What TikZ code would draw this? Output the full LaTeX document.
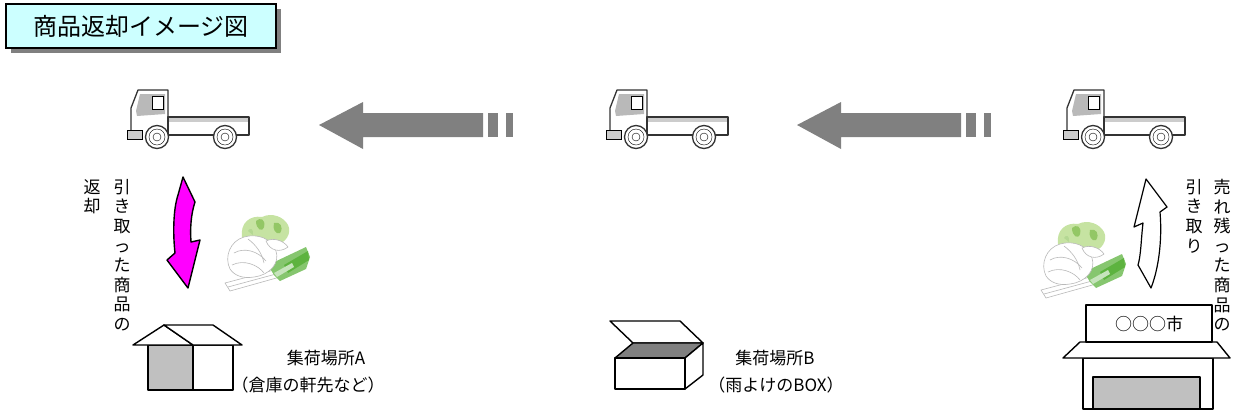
\documentclass[tikz,border=0pt]{standalone}
\usepackage{fontspec}
\usepackage{tikz}
\usetikzlibrary{shadows}
\newfontfamily\jp{Noto Sans CJK JP}
\definecolor{arrowgray}{HTML}{808080}
\definecolor{wallgray}{HTML}{C0C0C0}
\definecolor{titlecyan}{HTML}{CCFFFF}
\definecolor{returnpink}{HTML}{FF00FF}
\definecolor{leekgreen}{HTML}{5DB33F}
\definecolor{leafgreen}{HTML}{C6E3A2}
\definecolor{leafdark}{HTML}{93C765}

\begin{document}
\begin{tikzpicture}[x=1pt, y=-1pt,
        line/.style={line width=1.4pt, line join=round},
        truckline/.style={line width=1.3pt, draw=black!80, line join=round},
        sketch/.style={draw=gray!55, line width=0.6pt},
        label/.style={font=\jp\fontsize{17}{26}\selectfont, inner sep=0pt},
        vtext/.style={font=\jp\fontsize{17}{19.6}\selectfont, align=center, inner sep=0pt, anchor=north}]
    \useasboundingbox (0,0) rectangle (1239,416);

    % title
    \node[draw, line width=1.5pt, fill=titlecyan, minimum width=270pt, minimum height=44pt,
          drop shadow={shadow xshift=5pt, shadow yshift=-5pt, fill=arrowgray, opacity=1},
          font=\jp\fontsize{24}{24}\selectfont] (title) at (141,26) {商品返却イメージ図};

    % trucks
    \foreach \tx in {0, 479, 936} {
        \begin{scope}[xshift=\tx pt]
            \fill[gray!55] (136,111) -- (140,94) -- (165,94) -- (165,114) -- (137,116) -- cycle;
            \draw[thin, fill=white] (152,96) rectangle (163,109);
            \draw[truckline] (131,131) -- (131,108) -- (138,90) -- (168,90) -- (168,136);
            \fill[gray!40] (168,117) rectangle (249,122);
            \draw[truckline] (168,117) rectangle (249,135);
            \draw[thin, fill=gray!40] (127,130) rectangle (142,139);
            \foreach \wx in {157, 225} {
                \draw[truckline, fill=white] (\wx,137) circle (11.5pt);
                \draw[thin] (\wx,137) circle (8pt);
                \draw[thin] (\wx,137) circle (4pt);
            }
        \end{scope}
    }

    % grey arrows between the trucks
    \foreach \ax in {0, 478} {
        \begin{scope}[xshift=\ax pt]
            \fill[arrowgray] (319,125) -- (363,102) -- (363,113) -- (483,113)
                -- (483,137) -- (363,137) -- (363,149) -- cycle;
            \fill[arrowgray] (488,113) rectangle (498,137);
            \fill[arrowgray] (506,113) rectangle (513,137);
        \end{scope}
    }

    % return arrow (pink) and pick-up arrow (white)
    \draw[line, fill=returnpink] (183,177) -- (195,202) .. controls (191,214) and (190,228) .. (191,242)
        -- (200,240) -- (188,288) -- (167,260) -- (175,253)
        .. controls (173,235) and (173,210) .. (178,195) -- cycle;
    \draw[line, line width=1.2pt, fill=white] (1146,179) -- (1167,207) -- (1160,212)
        .. controls (1162,235) and (1160,265) .. (1151,288) -- (1138,265)
        .. controls (1141,255) and (1141,240) .. (1143,223) -- (1134,227) -- cycle;

    % vertical captions
    \node[vtext] (picked) at (122,179) {引\\き\\取\\っ\\た\\商\\品\\の};
    \node[vtext] (returned) at (92,179) {返\\却};
    \node[vtext] (unsold) at (1222,179) {売\\れ\\残\\っ\\た\\商\\品\\の};
    \node[vtext] (pickup) at (1194,179) {引\\き\\取\\り};

    % vegetables: chinese cabbage and leek
    \foreach \vx/\vy in {222/213, 1038/220} {
        \begin{scope}[shift={(\vx,\vy)}]
            % leek, white part
            \draw[sketch, fill=white] (3,70) -- (52,57) -- (58,64) -- (8,78) -- cycle;
            \draw[sketch] (6,74) -- (54,61);
            % leek, green part
            \fill[leekgreen!75] (46,52) -- (84,34) -- (88,44) -- (84,56) -- (58,68) -- (52,62) -- cycle;
            \fill[leekgreen] (62,52) -- (86,38) -- (87,47) -- (66,60) -- cycle;
            \fill[leekgreen!35] (52,60) -- (70,50) -- (72,54) -- (55,64) -- cycle;
            % cabbage leaves
            \fill[leafgreen] (20,24) .. controls (18,10) and (28,2) .. (40,4)
                .. controls (50,-1) and (62,4) .. (66,12)
                .. controls (70,20) and (64,30) .. (54,32)
                .. controls (42,34) and (26,34) .. (20,24) -- cycle;
            \fill[leafdark] (34,8) .. controls (38,4) and (44,6) .. (42,14) .. controls (40,20) and (34,16) .. (34,8) -- cycle;
            \fill[leafdark] (52,10) .. controls (58,8) and (62,14) .. (58,20) .. controls (54,22) and (50,16) .. (52,10) -- cycle;
            \fill[leafdark!70] (26,18) .. controls (28,14) and (32,16) .. (31,22) -- cycle;
            % cabbage body
            \draw[sketch, fill=white] (8,56) .. controls (2,44) and (8,28) .. (22,24)
                .. controls (36,20) and (50,26) .. (54,38)
                .. controls (58,50) and (48,62) .. (32,64)
                .. controls (20,66) and (12,62) .. (8,56) -- cycle;
            \draw[sketch] (12,40) .. controls (22,34) and (36,38) .. (44,48);
            \draw[sketch] (10,52) .. controls (22,46) and (36,52) .. (42,60);
            \draw[sketch] (26,26) .. controls (34,32) and (40,40) .. (42,50);
            \draw[sketch, fill=white] (44,28) .. controls (52,24) and (62,28) .. (66,34)
                .. controls (58,40) and (48,38) .. (44,28) -- cycle;
        \end{scope}
    }

    % collection point A : house
    \draw[line, fill=wallgray] (148,345) rectangle (193,390);
    \draw[line, fill=white] (193,345) rectangle (233,390);
    \draw[line, fill=white] (133,345) -- (164,325) -- (193,345) -- cycle;
    \draw[line, fill=white] (164,325) -- (213,325) -- (242,345) -- (193,345) -- cycle;
    \node[label] (siteA) at (326,358) {集荷場所A};
    \node[label] (siteAnote) at (308,385) {（倉庫の軒先など）};

    % collection point B : box with open lid
    \draw[line, fill=white] (633,343) -- (610,321) -- (680,321) -- (703,343) -- cycle;
    \draw[line, fill=arrowgray] (615,358) -- (633,343) -- (703,343) -- (685,358) -- cycle;
    \draw[line, fill=white] (685,358) -- (703,343) -- (703,375) -- (685,389) -- cycle;
    \draw[line, fill=white] (615,358) rectangle (685,389);
    \node[label] (siteB) at (775,358) {集荷場所B};
    \node[label] (siteBnote) at (776,385) {（雨よけのBOX）};

    % market
    \draw[line, fill=white] (1083,358) rectangle (1213,409);
    \draw[line, fill=wallgray] (1093,377) rectangle (1200,409);
    \draw[line, fill=white] (1080,342) -- (1217,342) -- (1230,358) -- (1063,358) -- cycle;
    \draw[line, fill=white] (1086,305) rectangle (1212,342);
    \node[label, font=\jp\fontsize{17}{17}\selectfont] (market) at (1149,324) {○○○市};
\end{tikzpicture}
\end{document}
